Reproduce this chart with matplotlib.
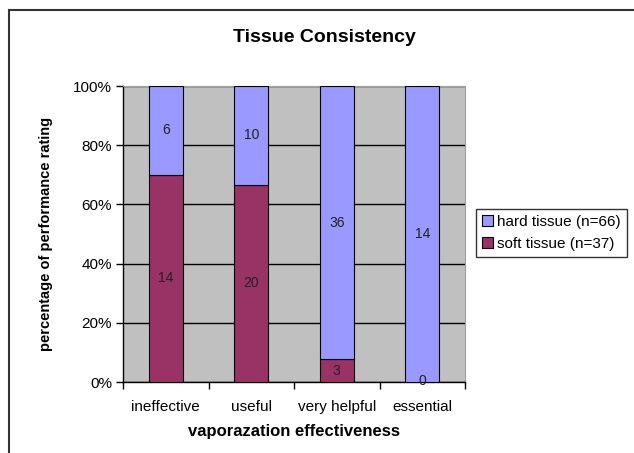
import matplotlib
matplotlib.use("Agg")
import matplotlib.pyplot as plt
from matplotlib.lines import Line2D
from matplotlib.ticker import PercentFormatter, FixedLocator

plt.rcParams['font.family'] = ['Liberation Sans', 'DejaVu Sans']

# Data
categories = ["ineffective", "useful", "very helpful", "essential"]
hard_counts = [6, 10, 36, 14]
soft_counts = [14, 20, 3, 0]
hard_label = "hard tissue (n=66)"
soft_label = "soft tissue (n=37)"

totals = [h + s for h, s in zip(hard_counts, soft_counts)]
soft_pct = [100 * s / t for s, t in zip(soft_counts, totals)]
hard_pct = [100 * h / t for h, t in zip(hard_counts, totals)]

HARD = "#9999FF"
SOFT = "#993366"

fig = plt.figure(figsize=(6.34, 4.53), dpi=100)
ax = fig.add_axes([123 / 634, 1 - 382 / 453, 342 / 634, 296 / 453])
ax.set_facecolor("#C0C0C0")

x = list(range(len(categories)))
ax.bar(x, soft_pct, width=0.4, color=SOFT, edgecolor="black", linewidth=0.8,
       label=soft_label, zorder=3)
ax.bar(x, hard_pct, width=0.4, bottom=soft_pct, color=HARD, edgecolor="black",
       linewidth=0.8, label=hard_label, zorder=3)

# segment value labels
for i in x:
    sy = soft_pct[i] / 2 if soft_counts[i] > 0 else 0.5
    ax.text(i, sy, str(soft_counts[i]), ha="center", va="center", fontsize=10,
            color="#222222", zorder=4)
    ax.text(i, soft_pct[i] + hard_pct[i] / 2, str(hard_counts[i]), ha="center",
            va="center", fontsize=10, color="#222222", zorder=4)

ax.set_xlim(-0.5, 3.5)
ax.set_ylim(0, 100)
ax.set_yticks(range(0, 101, 20))
ax.yaxis.set_major_formatter(PercentFormatter(decimals=0))
ax.grid(axis="y", color="black", linewidth=1, zorder=1)

ax.set_xticks(x)
ax.set_xticklabels(categories, fontsize=11)
ax.xaxis.set_minor_locator(FixedLocator([-0.5, 0.5, 1.5, 2.5, 3.5]))
ax.tick_params(axis="x", which="major", length=0, pad=13)
ax.tick_params(axis="x", which="minor", length=5, width=1, direction="out")
ax.tick_params(axis="y", length=5, width=1, direction="out", labelsize=11, pad=3)

for side in ["top", "right"]:
    ax.spines[side].set_color("#A0A0A0")
for side in ["left", "bottom"]:
    ax.spines[side].set_color("black")
    ax.spines[side].set_linewidth(1)

ax.set_xlabel("vaporazation effectiveness", fontsize=12, fontweight="bold",
              labelpad=7)
ax.set_ylabel("percentage of performance rating", fontsize=10.5,
              fontweight="bold", labelpad=14)

fig.text(324 / 634, 1 - 38 / 453, "Tissue Consistency", ha="center",
         va="center", fontsize=14, fontweight="bold")

handles, labels = ax.get_legend_handles_labels()
leg = fig.legend(handles[::-1], labels[::-1], loc="center left",
                 bbox_to_anchor=(476 / 634, 1 - 233 / 453), fontsize=11,
                 frameon=True, fancybox=False, edgecolor="black",
                 handlelength=0.7, handleheight=0.7, handletextpad=0.3,
                 borderpad=0.4, labelspacing=0.5, borderaxespad=0)
leg.get_frame().set_linewidth(1)

# outer chart frame (only top and left visible)
fig.add_artist(Line2D([9 / 634, 1], [1 - 10 / 453, 1 - 10 / 453],
                      color="#333333", linewidth=1.5))
fig.add_artist(Line2D([9 / 634, 9 / 634], [0, 1 - 10 / 453],
                      color="#333333", linewidth=1.5))

fig.savefig("out.png", dpi=100)
